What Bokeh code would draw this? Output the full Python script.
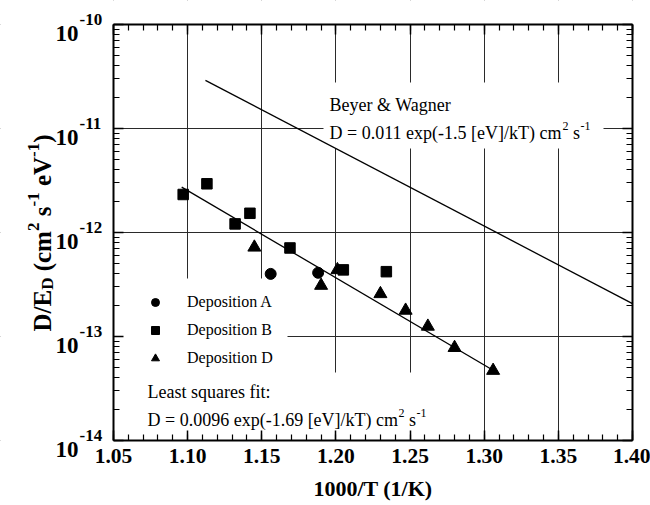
import math
from bokeh.plotting import figure
from bokeh.models import (FixedTicker, LinearAxis, LogAxis, Label, BoxAnnotation,
                          Legend, LegendItem)
from bokeh.core.properties import value
from bokeh.embed import file_html
from bokeh.resources import INLINE

# ---------------- data ----------------
dep_a_x = [1.156, 1.188]
dep_a_y = [4.0e-13, 4.1e-13]

dep_b_x = [1.097, 1.113, 1.132, 1.142, 1.169, 1.205, 1.234]
dep_b_y = [2.32e-12, 2.94e-12, 1.21e-12, 1.53e-12, 7.1e-13, 4.37e-13, 4.2e-13]

dep_d_x = [1.145, 1.190, 1.201, 1.230, 1.247, 1.262, 1.280, 1.306]
dep_d_y = [7.2e-13, 3.09e-13, 4.37e-13, 2.57e-13, 1.78e-13, 1.25e-13, 7.8e-14, 4.7e-14]

fit_x = [1.096, 1.310]
fit_y = [2.73e-12, 4.38e-14]

bw_x = [1.112, 1.400]
bw_y = [2.90e-11, 2.07e-13]

x_ticks = [1.05, 1.10, 1.15, 1.20, 1.25, 1.30, 1.35, 1.40]
x_tick_labels = ["1.05", "1.10", "1.15", "1.20", "1.25", "1.30", "1.35", "1.40"]
y_ticks = [1e-14, 1e-13, 1e-12, 1e-11, 1e-10]
y_tick_base = ["10", "10", "10", "10", "10"]
y_tick_exps = ["-14", "-13", "-12", "-11", "-10"]

legend_labels = ["Deposition A", "Deposition B", "Deposition D"]

# ---------------- layout ----------------
X0, X1 = 1.05, 1.40
Y0, Y1 = 1e-14, 1e-10
FL, FT, FW, FH = 113, 24, 519, 416      # plot box in page pixels
W, H = 650, 505
FONT = "Liberation Serif"


def xd(px):
    return X0 + (px - FL) / FW * (X1 - X0)


def yd(py):
    return 10 ** (math.log10(Y1) - (py - FT) / FH * (math.log10(Y1) - math.log10(Y0)))


# the frame covers the whole canvas; the plot box is drawn with fixed-location axes
p = figure(width=W, height=H, x_range=(xd(0), xd(W)), y_range=(yd(H), yd(0)),
           y_axis_type="log", x_axis_location=None, y_axis_location=None,
           output_backend="svg", toolbar_location=None, title=None, min_border=0)
p.background_fill_color = "white"
p.border_fill_color = "white"
p.outline_line_color = None

xticker = FixedTicker(ticks=x_ticks,
                      minor_ticks=[round(1.05 + 0.01 * i, 2) for i in range(36)])
yticker = FixedTicker(ticks=y_ticks,
                      minor_ticks=[m * 10.0 ** e for e in range(-14, -10) for m in range(2, 10)])


def make_axis(cls, ticker, loc, bounds, show_labels=False):
    ax = cls(ticker=ticker, fixed_location=loc, bounds=bounds)
    ax.major_tick_in = 10
    ax.major_tick_out = 0
    ax.minor_tick_in = 6
    ax.minor_tick_out = 0
    ax.major_tick_line_width = 1.5
    ax.minor_tick_line_width = 1.2
    ax.axis_line_width = 2
    ax.major_tick_line_color = "black"
    ax.minor_tick_line_color = "black"
    ax.axis_line_color = "black"
    if not show_labels:
        ax.major_label_text_font_size = "1px"
        ax.major_label_text_alpha = 0
        ax.major_label_standoff = 0
    return ax


bottom = make_axis(LinearAxis, xticker, Y0, (X0, X1), show_labels=True)
bottom.major_label_text_font = FONT
bottom.major_label_text_font_style = "bold"
bottom.major_label_text_font_size = "21.5px"
bottom.major_label_text_color = "black"
bottom.major_label_standoff = 8
bottom.major_label_overrides = dict(zip(x_ticks, x_tick_labels))
bottom.axis_label = "1000/T (1/K)"
bottom.axis_label_text_font = FONT
bottom.axis_label_text_font_style = "bold"
bottom.axis_label_text_font_size = "22px"
bottom.axis_label_text_color = "black"
bottom.axis_label_standoff = 10
p.add_layout(bottom, "below")
p.add_layout(make_axis(LinearAxis, xticker, Y1, (X0, X1)), "above")
p.add_layout(make_axis(LogAxis, yticker, X0, (Y0, Y1)), "left")
p.add_layout(make_axis(LogAxis, yticker, X1, (Y0, Y1)), "right")

p.xgrid.ticker = xticker
p.ygrid.ticker = yticker
p.xgrid.bounds = (X0, X1)
p.ygrid.bounds = (Y0, Y1)
for g in (p.xgrid[0], p.ygrid[0]):
    g.grid_line_color = "#2a2a2a"
    g.grid_line_width = 1
    g.minor_grid_line_color = None

# white boxes: outside the plot box, and behind the text blocks (they interrupt the grid)
XL, XR, YB, YT = xd(0), xd(W), yd(H), yd(0)
boxes = [(XL, XR, YT, Y1), (XL, XR, Y0, YB), (XL, X0, YT, YB), (X1, XR, YT, YB),
         (xd(323), xd(603), yd(82), yd(148)),
         (X0, xd(287), yd(278), Y0),
         (X0, xd(445), yd(372), Y0)]
for (l, r, t, b) in boxes:
    p.add_layout(BoxAnnotation(left=l, right=r, top=t, bottom=b,
                               fill_color="white", fill_alpha=1.0, line_alpha=0,
                               level="underlay"))

p.line(bw_x, bw_y, line_color="black", line_width=1.3)
p.line(fit_x, fit_y, line_color="black", line_width=1.3)

ra = p.scatter(dep_a_x, dep_a_y, marker="circle", size=11, fill_color="black", line_color="black")
rb = p.scatter(dep_b_x, dep_b_y, marker="square", size=10.5, fill_color="black", line_color="black")
rd = p.scatter(dep_d_x, dep_d_y, marker="triangle", size=13, fill_color="black", line_color="black")

legend = Legend(items=[LegendItem(label=legend_labels[0], renderers=[ra]),
                       LegendItem(label=legend_labels[1], renderers=[rb]),
                       LegendItem(label=legend_labels[2], renderers=[rd])],
                location=(145, H - 368), orientation="vertical", padding=0, margin=0,
                spacing=8, glyph_width=20, glyph_height=20, label_height=20,
                label_standoff=22, label_text_font=FONT, label_text_font_size="16px",
                label_text_color="black", background_fill_alpha=0, border_line_alpha=0)
p.add_layout(legend)


def ptext(t, px, py, size, bold=False):
    """label positioned in page pixels (anchored at the plot box's top-left corner)"""
    p.add_layout(Label(x=X0, y=Y1, x_offset=px - FL, y_offset=-(py - FT), text=t,
                       text_font=FONT, text_font_size=f"{size}px",
                       text_font_style="bold" if bold else "normal",
                       text_align="left", text_baseline="alphabetic", text_color="black"))


ptext("Beyer & Wagner", 329, 104, 18)
ptext("D = 0.011 exp(-1.5 [eV]/kT) cm", 329, 132, 18)
ptext("2", 562, 125, 12)
ptext("s", 572.5, 132, 18)
ptext("-1", 580, 125, 12)

ptext("Least squares fit:", 147, 391, 18)
ptext("D = 0.0096 exp(-1.69 [eV]/kT) cm", 147, 419, 18)
ptext("2", 398, 412, 12)
ptext("s", 408.5, 419, 18)
ptext("-1", 416, 412, 12)

# y tick labels 10^n (text glyphs placed at the tick values)
n = len(y_ticks)
p.text(x=[X0] * n, y=y_ticks, text=y_tick_base, x_offset=55 - FL, y_offset=9,
       text_font=value(FONT), text_font_style="bold", text_font_size="23px",
       text_align="left", text_baseline="alphabetic", text_color="black")
p.text(x=[X0] * n, y=y_ticks, text=y_tick_exps, x_offset=79 - FL, y_offset=-5,
       text_font=value(FONT), text_font_style="bold", text_font_size="17px",
       text_align="left", text_baseline="alphabetic", text_color="black")

# y axis title, composed of rotated pieces
R = math.pi / 2
pieces = [("D/E", 42, 331, 25), ("D", 47, 289.3, 17), ("(cm", 42, 270.8, 25),
          ("2", 33, 230.5, 17), ("s", 42, 215.8, 25), ("-1", 33, 206, 17),
          ("eV", 42, 185.6, 25), ("-1", 33, 156.4, 17), (")", 42, 142.2, 25)]
for t, px, py, size in pieces:
    p.text(x=[X0], y=[Y1], text=[t], x_offset=px - FL, y_offset=py - FT, angle=R,
           text_font=value(FONT), text_font_style="bold", text_font_size=f"{size}px",
           text_align="left", text_baseline="alphabetic", text_color="black")

open("out.html", "w").write(file_html(p, INLINE))
